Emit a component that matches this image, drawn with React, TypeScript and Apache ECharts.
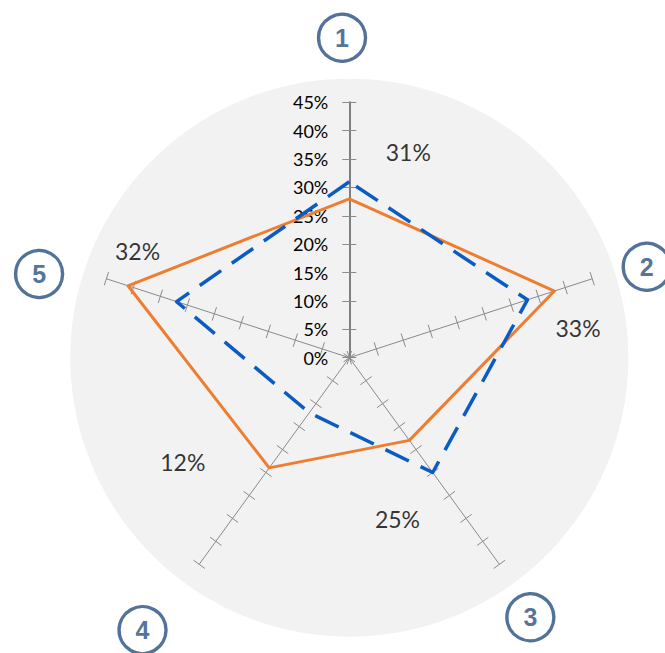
import React, { useEffect, useRef } from 'react';
import * as echarts from 'echarts';

// ---- data (axes in clockwise order 1..5) ----
const axisNames = ['1', '2', '3', '4', '5'];
const blueValues = [31, 33, 25, 12, 32];
const orangeValues = [28, 38, 18, 24, 41];
const axisMax = 45;
const axisSplits = 9;
const valueLabels = blueValues.map((v) => v + '%');

// ---- layout (px / degrees clockwise from top) ----
const CENTER = [349.3, 357.7];
const AXIS_R = 255.4;
const BG_R = 279;
const numberPlace = [
  [320, 358.7],
  [311, 73],
  [316.5, 145.1],
  [342, 217.2],
  [321.3, 285.1],
];
const labelPlace = [
  [214, 16],
  [230.7, 82.5],
  [168.5, 163.4],
  [196.3, 238],
  [237.2, 296.8],
];

const FONT = 'Lato, "Open Sans", sans-serif';
const NUM_COLOR = '#274f80';
const AXIS_GRAY = '#8a8a8a';

// ECharts radar lays indicators counter-clockwise; reorder so they run clockwise.
const CW_ORDER = [0, 4, 3, 2, 1];
const cw = <T,>(arr: T[]): T[] => CW_ORDER.map((i) => arr[i]);

export default function App() {
  const ref = useRef<HTMLDivElement>(null);
  useEffect(() => {
    if (!ref.current) return;
    const chart = echarts.init(ref.current, undefined, { renderer: 'svg' });
    const indicators = cw(axisNames).map((n) => ({ name: n, min: 0, max: axisMax }));
    const mainIndicators = cw(axisNames).map((n, k) =>
      k === 0
        ? {
            name: n,
            min: 0,
            max: axisMax,
            axisLine: { show: true, lineStyle: { color: '#7f7f7f', width: 2 } },
            axisLabel: {
              show: true,
              margin: 21,
              fontFamily: FONT,
              fontSize: 18,
              color: '#000',
              formatter: (v: number) => v + '%',
            },
          }
        : { name: n, min: 0, max: axisMax }
    );
    const baseRadar = {
      center: CENTER,
      radius: AXIS_R,
      startAngle: 90,
      splitNumber: axisSplits,
      shape: 'polygon',
      axisName: { show: false },
      splitLine: { show: false },
      splitArea: { show: false },
    };
    chart.setOption({
      animation: false,
      radar: [
        {
          center: CENTER,
          radius: BG_R,
          startAngle: 90,
          splitNumber: 1,
          shape: 'circle',
          indicator: indicators,
          axisName: { show: false },
          axisLine: { show: false },
          axisTick: { show: false },
          axisLabel: { show: false },
          splitLine: { show: false },
          splitArea: { show: true, areaStyle: { color: ['#f2f2f2'] } },
        },
        {
          ...baseRadar,
          indicator: mainIndicators,
          axisLine: { show: true, lineStyle: { color: AXIS_GRAY, width: 1 } },
          axisTick: { show: true, length: 7, lineStyle: { color: AXIS_GRAY, width: 1 } },
          axisLabel: { show: false },
        },
        {
          ...baseRadar,
          indicator: indicators,
          axisLine: { show: false },
          axisTick: { show: true, length: -7, lineStyle: { color: AXIS_GRAY, width: 1 } },
          axisLabel: { show: false },
        },
      ],
      polar: { center: CENTER, radius: 400 },
      angleAxis: { type: 'value', min: 0, max: 360, startAngle: 90, clockwise: true, show: false },
      radiusAxis: { type: 'value', min: 0, max: 400, show: false },
      series: [
        {
          type: 'radar',
          radarIndex: 1,
          symbol: 'none',
          z: 3,
          data: [
            {
              value: cw(orangeValues),
              name: 'orange',
              lineStyle: { color: '#ed7d31', width: 3, type: 'solid' },
            },
          ],
        },
        {
          type: 'radar',
          radarIndex: 1,
          symbol: 'none',
          z: 4,
          data: [
            {
              value: cw(blueValues),
              name: 'blue',
              lineStyle: { color: '#0a5cc2', width: 3.5, type: [26, 13], cap: 'butt' },
            },
          ],
        },
        {
          type: 'scatter',
          coordinateSystem: 'polar',
          symbol: 'circle',
          symbolSize: 47,
          itemStyle: { color: 'rgba(0,0,0,0)', borderColor: NUM_COLOR, borderWidth: 3.4 },
          label: {
            show: true,
            position: 'inside',
            formatter: (p: any) => axisNames[p.dataIndex],
            fontFamily: '"Liberation Sans", Arial, sans-serif',
            fontWeight: 'bold',
            fontSize: 25,
            color: NUM_COLOR,
          },
          data: numberPlace,
        },
        {
          type: 'scatter',
          coordinateSystem: 'polar',
          symbolSize: 0,
          label: {
            show: true,
            position: 'inside',
            formatter: (p: any) => valueLabels[p.dataIndex],
            fontFamily: FONT,
            fontSize: 23,
            color: '#000',
          },
          data: labelPlace,
        },
      ],
    });
    return () => chart.dispose();
  }, []);
  return (
    <div
      ref={ref}
      style={{ position: 'fixed', left: 0, top: 0, width: 665, height: 653, background: '#fff' }}
    />
  );
}
